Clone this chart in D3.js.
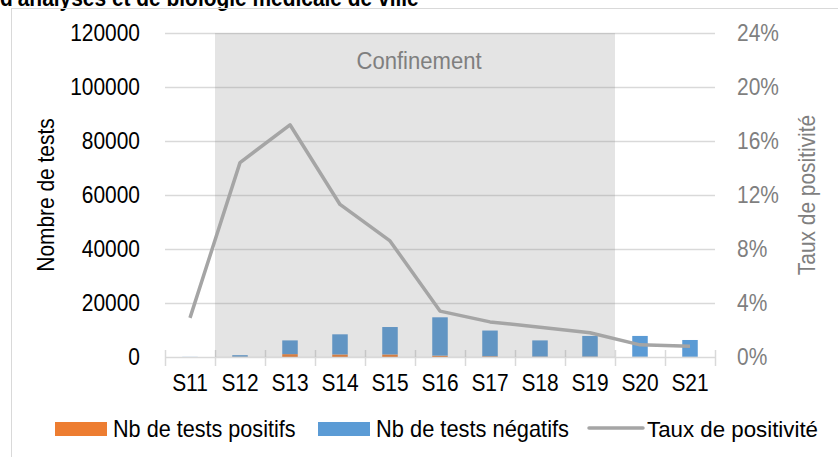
<!DOCTYPE html>
<html>
<head>
<meta charset="utf-8">
<script src="https://d3js.org/d3.v7.min.js"></script>
<style>
  body { margin: 0; background: #fff; }
  svg { display: block; font-family: "Liberation Sans", Arial, sans-serif; }
</style>
</head>
<body>
<div id="graphContainer"></div>
<script>
// tests per week, positives / negatives + positivity rate (%)
var weeks = ["S11", "S12", "S13", "S14", "S15", "S16", "S17", "S18", "S19", "S20", "S21"];
var positifs = [1, 98, 1060, 950, 950, 500, 255, 135, 140, 70, 50];
var negatifs = [49, 582, 5090, 7450, 10150, 14200, 9545, 6015, 7660, 7730, 6250];
var taux = [2.9, 14.4, 17.2, 11.3, 8.6, 3.4, 2.6, 2.2, 1.8, 0.9, 0.8];
var leftTicks = [0, 20000, 40000, 60000, 80000, 100000, 120000];
var rightTicks = [0, 4, 8, 12, 16, 20, 24];
var confinement = ["S12", "S19"];

var W = 838, H = 457;
var FS = 23, SX = 0.91;   // font size + horizontal squeeze of the original

var svg = d3.select("#graphContainer").append("svg")
    .attr("width", W)
    .attr("height", H);

// little helper: squeezed text
function label(x, y, txt, opts) {
    opts = opts || {};
    var tr = "translate(" + x + "," + y + ")";
    if (opts.rotate) tr += " rotate(" + opts.rotate + ")";
    tr += " scale(" + (opts.sx || SX) + ",1)";
    return svg.append("text")
        .attr("transform", tr)
        .attr("text-anchor", opts.anchor || "start")
        .attr("fill", opts.color || "#000")
        .attr("font-size", opts.size || FS)
        .attr("font-weight", opts.weight || "normal")
        .text(txt);
}

// title (cut off at top)
label(0, 6, "d'analyses et de biologie médicale de ville", { weight: "bold" });

// chart frame
svg.append("rect")
    .attr("x", 11.5).attr("y", 8.5)
    .attr("width", W).attr("height", H)
    .attr("fill", "none")
    .attr("stroke", "#d9d9d9");

var x = d3.scaleBand().domain(weeks).range([165, 715]).padding(0);
var y = d3.scaleLinear().domain([0, 120000]).range([357, 33]);
var y2 = d3.scaleLinear().domain([0, 24]).range([357, 33]);

// gridlines
svg.append("g").selectAll("line")
    .data(leftTicks.slice(1))
    .enter().append("line")
    .attr("x1", 165).attr("x2", 715)
    .attr("y1", function(d) { return Math.round(y(d)) + 0.5; })
    .attr("y2", function(d) { return Math.round(y(d)) + 0.5; })
    .attr("stroke", "#d9d9d9")
    .attr("stroke-width", 1.5);

// stacked bars
var data = weeks.map(function(w, i) {
    return { week: w, pos: positifs[i], neg: negatifs[i] };
});
var series = d3.stack().keys(["pos", "neg"])(data);
var colors = { pos: "#ED7D31", neg: "#5B9BD5" };
var bw = x.bandwidth() * 0.31;

svg.append("g").selectAll("g")
    .data(series)
    .enter().append("g")
    .attr("fill", function(s) { return colors[s.key]; })
    .selectAll("rect")
    .data(function(s) { return s; })
    .enter().append("rect")
    .attr("x", function(d) { return x(d.data.week) + (x.bandwidth() - bw) / 2; })
    .attr("width", bw)
    .attr("y", function(d) { return y(d[1]); })
    .attr("height", function(d) { return y(d[0]) - y(d[1]); });

// x axis line + cross ticks
svg.append("line")
    .attr("x1", 165).attr("x2", 715)
    .attr("y1", 357.5).attr("y2", 357.5)
    .attr("stroke", "#d9d9d9").attr("stroke-width", 1.5);
var bounds = weeks.map(function(w) { return x(w); }).concat([x(weeks[weeks.length - 1]) + x.bandwidth()]);
svg.append("g").selectAll("line")
    .data(bounds)
    .enter().append("line")
    .attr("x1", function(d) { return Math.round(d) + 0.5; })
    .attr("x2", function(d) { return Math.round(d) + 0.5; })
    .attr("y1", 350).attr("y2", 366)
    .attr("stroke", "#d9d9d9").attr("stroke-width", 1.5);

// confinement shading (over bars + grid)
var cx0 = x(confinement[0]), cx1 = x(confinement[1]) + x.bandwidth();
svg.append("rect")
    .attr("x", cx0).attr("y", y(120000))
    .attr("width", cx1 - cx0)
    .attr("height", y(0) - y(120000))
    .attr("fill", "rgba(128,128,128,0.21)");
label((cx0 + cx1) / 2 + 4, 69, "Confinement", { anchor: "middle", color: "#7f7f7f", sx: 0.96 });

// positivity line
var line = d3.line()
    .x(function(d, i) { return x(weeks[i]) + x.bandwidth() / 2; })
    .y(function(d) { return y2(d); });
svg.append("path")
    .datum(taux)
    .attr("d", line)
    .attr("fill", "none")
    .attr("stroke", "#A5A5A5")
    .attr("stroke-width", 3.5)
    .attr("stroke-linejoin", "round");

// left axis labels
leftTicks.forEach(function(t) {
    label(140, y(t) + 8, t, { anchor: "end" });
});
// right axis labels
rightTicks.forEach(function(t) {
    label(737, y2(t) + 8, t + "%", { color: "#7f7f7f" });
});
// x labels
weeks.forEach(function(w) {
    label(x(w) + x.bandwidth() / 2, 391, w, { anchor: "middle" });
});

// axis titles
label(54, 195, "Nombre de tests", { anchor: "middle", rotate: -90 });
label(815, 195, "Taux de positivité", { anchor: "middle", rotate: -90, color: "#7f7f7f" });

// legend
var legend = svg.append("g");
legend.append("rect").attr("x", 55).attr("y", 422).attr("width", 52).attr("height", 14).attr("fill", colors.pos);
label(113, 437, "Nb de tests positifs", { sx: 0.94 });
legend.append("rect").attr("x", 318).attr("y", 422).attr("width", 52).attr("height", 14).attr("fill", colors.neg);
label(376, 437, "Nb de tests négatifs", { sx: 0.95 });
legend.append("line").attr("x1", 589).attr("x2", 643).attr("y1", 428).attr("y2", 428)
    .attr("stroke", "#A5A5A5").attr("stroke-width", 3.5).attr("stroke-linecap", "round");
label(647, 437, "Taux de positivité", { sx: 0.97 });
</script>
</body>
</html>
